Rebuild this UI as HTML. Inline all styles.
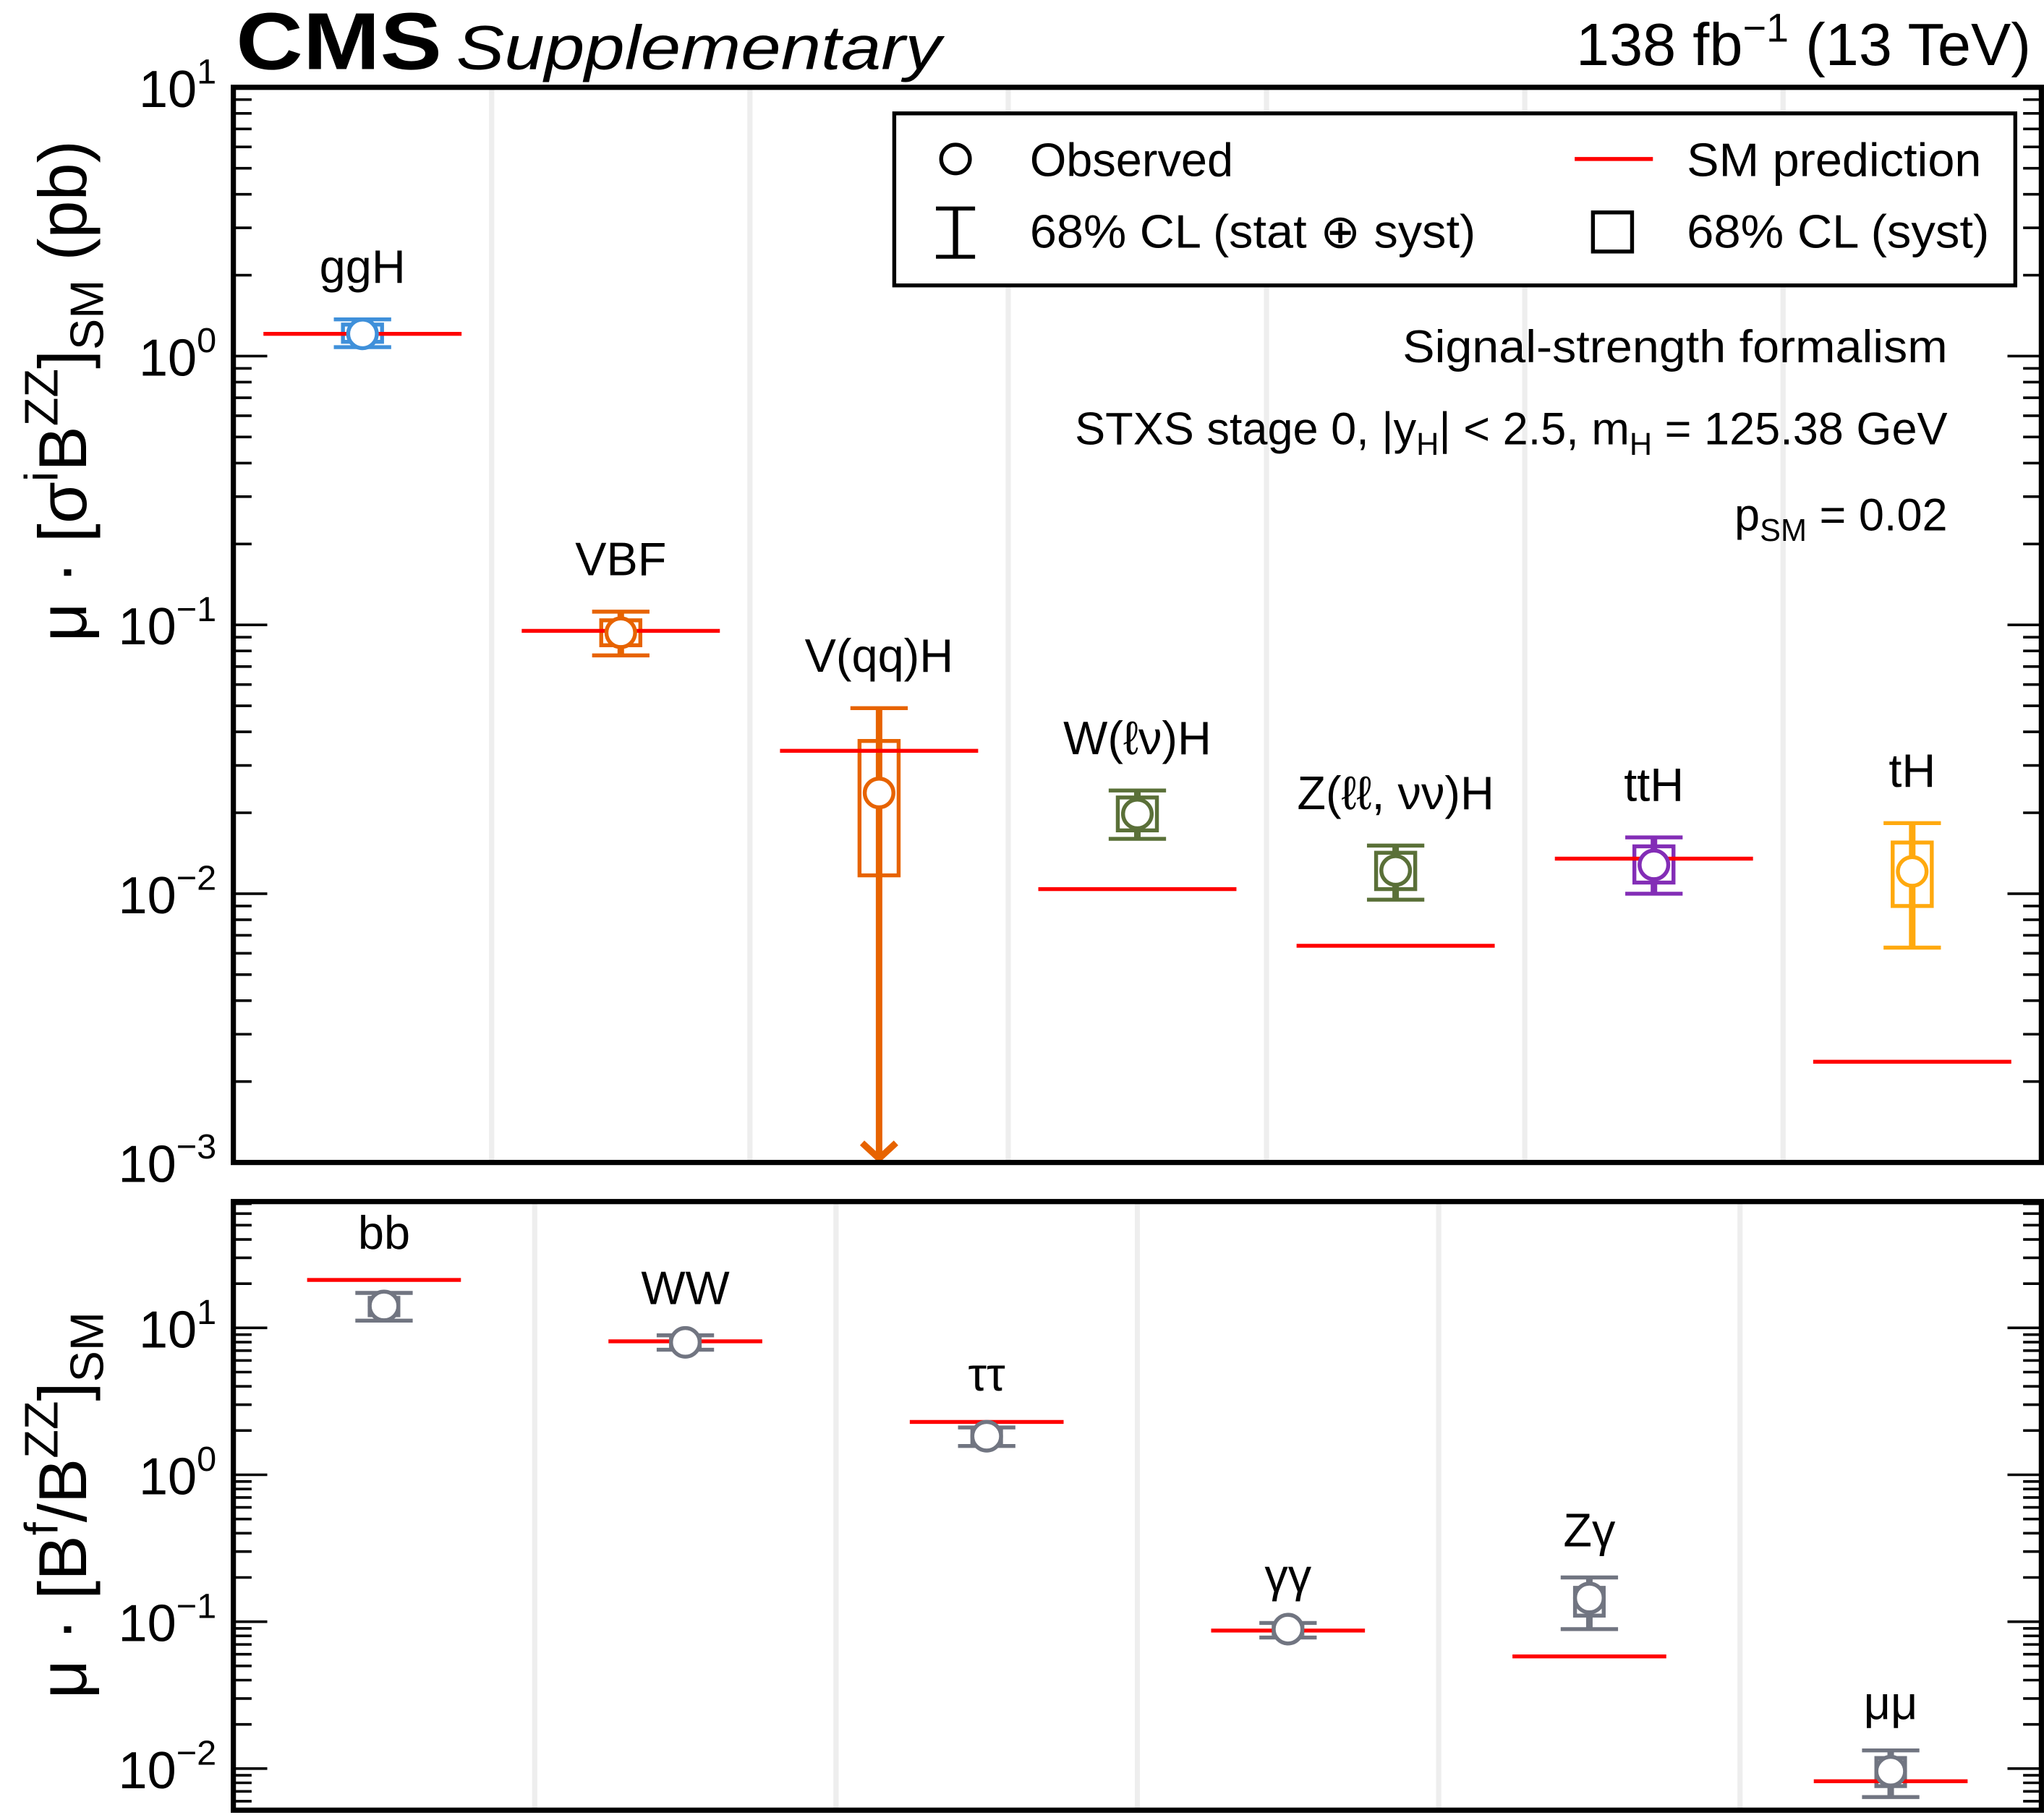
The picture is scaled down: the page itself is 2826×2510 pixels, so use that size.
<!DOCTYPE html>
<html><head><meta charset="utf-8"><style>
html,body{margin:0;padding:0;background:#fff}
svg{display:block}
text{font-family:"Liberation Sans",sans-serif;fill:#000}
</style></head><body>
<svg id="c" width="2826" height="2510" viewBox="0 0 1568 1392.7" xmlns="http://www.w3.org/2000/svg">
<rect x="0" y="0" width="1568" height="1393" fill="#fff"/>
<g id="grid"></g>
<g id="marks"></g>
<g id="axes"></g>
<text x="181" y="53" font-size="62" font-weight="bold" textLength="158" lengthAdjust="spacingAndGlyphs">CMS</text>
<text x="350" y="53" font-size="48" font-style="italic" textLength="372" lengthAdjust="spacingAndGlyphs">Supplementary</text>
<text x="1558" y="50" font-size="46" text-anchor="end">138 fb<tspan dy="-18" font-size="31">−1</tspan><tspan dy="18"> (13 TeV)</tspan></text>
<g>
<rect x="686" y="87" width="860" height="132" fill="#fff" stroke="#000" stroke-width="3"/>
<circle cx="733" cy="122" r="11" fill="#fff" stroke="#000" stroke-width="3"/>
<text x="790" y="135" font-size="36">Observed</text>
<line x1="733" y1="160" x2="733" y2="197" stroke="#000" stroke-width="4"/>
<line x1="718" y1="160" x2="748" y2="160" stroke="#000" stroke-width="3"/>
<line x1="718" y1="197" x2="748" y2="197" stroke="#000" stroke-width="3"/>
<text x="790" y="190" font-size="36" textLength="342" lengthAdjust="spacingAndGlyphs">68% CL (stat ⊕ syst)</text>
<line x1="1208" y1="122" x2="1268" y2="122" stroke="#ff0000" stroke-width="3"/>
<text x="1294" y="135" font-size="36" textLength="226" lengthAdjust="spacingAndGlyphs">SM prediction</text>
<rect x="1222" y="163" width="30" height="30" fill="none" stroke="#000" stroke-width="3"/>
<text x="1294" y="190" font-size="36" textLength="232" lengthAdjust="spacingAndGlyphs">68% CL (syst)</text>
</g>
<text x="1494" y="278" font-size="35" text-anchor="end" textLength="418" lengthAdjust="spacingAndGlyphs">Signal-strength formalism</text>
<text x="1494" y="341" font-size="35" text-anchor="end">STXS stage 0, |y<tspan dy="8" font-size="24">H</tspan><tspan dy="-8">| &lt; 2.5, m</tspan><tspan dy="8" font-size="24">H</tspan><tspan dy="-8"> = 125.38 GeV</tspan></text>
<text x="1494" y="407" font-size="35" text-anchor="end">p<tspan dy="8" font-size="24">SM</tspan><tspan dy="-8"> = 0.02</tspan></text>
<text transform="translate(66,300) rotate(-90)" font-size="52" text-anchor="middle">μ · [σ<tspan dy="-22" font-size="36">i</tspan><tspan dy="22">B</tspan><tspan dy="-22" font-size="36">ZZ</tspan><tspan dy="22">]</tspan><tspan dy="13" font-size="36">SM</tspan><tspan dy="-13"> (pb)</tspan></text>
<text transform="translate(66,1155) rotate(-90)" font-size="52" text-anchor="middle">μ · [B<tspan dy="-22" font-size="36">f</tspan><tspan dy="22">/B</tspan><tspan dy="-22" font-size="36">ZZ</tspan><tspan dy="22">]</tspan><tspan dy="13" font-size="36">SM</tspan></text>
</svg>
<script>
// top panel data
const topCats = ["ggH","VBF","V(qq)H","W(ℓν)H","Z(ℓℓ, νν)H","ttH","tH"];
const topObs = [1.21,0.0935,0.0237,0.0198,0.0122,0.0128,0.0121];
const topSM = [1.21,0.095,0.034,0.0104,0.0064,0.0135,0.00237];
const topHi = [1.37,0.112,0.049,0.0242,0.0151,0.0162,0.0183];
const topLo = [1.08,0.077,0.0009,0.0160,0.0095,0.0100,0.0063];
const topSystHi = [1.31,0.104,0.037,0.0228,0.0142,0.0150,0.0155];
const topSystLo = [1.13,0.084,0.0117,0.0172,0.0104,0.0110,0.0090];
const topColors = ["#3f90da","#e76300","#e76300","#5a7038","#5a7038","#832db6","#ffa90e"];
const topTicks = [-3,-2,-1,0,1];
// bottom panel data
const botCats = ["bb","WW","ττ","γγ","Zγ","μμ"];
const botObs = [14.1,7.97,1.83,0.089,0.145,0.0096];
const botSM = [21.2,8.1,2.29,0.087,0.058,0.0082];
const botHi = [17.3,8.9,2.1,0.098,0.20,0.0133];
const botLo = [11.2,7.1,1.57,0.078,0.089,0.0064];
const botSystHi = [16.0,8.5,2.0,0.094,0.17,0.0118];
const botSystLo = [12.2,7.5,1.66,0.083,0.11,0.0076];
const botTicks = [-2,-1,0,1];

const NS="http://www.w3.org/2000/svg";
const X0=179,X1=1566;
const TOP={y0:67,y1:892,lmin:-3,lmax:1};
const BOT={y0:922,y1:1389,lmin:-2.2831,lmax:1.8598};
function yOf(p,v){const l=Math.log10(v);return p.y1-(l-p.lmin)/(p.lmax-p.lmin)*(p.y1-p.y0);}
function yL(p,l){return p.y1-(l-p.lmin)/(p.lmax-p.lmin)*(p.y1-p.y0);}
function mk(tag,attrs,parent){const e=document.createElementNS(NS,tag);for(const k in attrs)e.setAttribute(k,attrs[k]);parent.appendChild(e);return e;}
const grid=document.getElementById('grid'),marks=document.getElementById('marks'),axes=document.getElementById('axes');

function panel(p,cats,obs,sm,hi,lo,sHi,sLo,colors,ticks,name,labelOff,boxW,smHalf){
  const n=cats.length,w=(X1-X0)/n;
  for(let i=1;i<n;i++){
    const g=mk('line',{x1:X0+i*w,x2:X0+i*w,y1:p.y0,y2:p.y1,stroke:'#eeeeee','stroke-width':4},grid);
    
    
  }
  for(let i=0;i<n;i++){
    const cx=X0+(i+0.5)*w,col=colors[i];
    const g=mk('g',{},marks);
    
    
    const yo=yOf(p,obs[i]),ys=yOf(p,sm[i]),yh=yOf(p,hi[i]);
    let yl=yOf(p,lo[i]);const arrow=yl>=p.y1-1;if(arrow)yl=p.y1-3;
    mk('line',{x1:cx,x2:cx,y1:yh,y2:yl,stroke:col,'stroke-width':5},g);
    mk('line',{x1:cx-22,x2:cx+22,y1:yh,y2:yh,stroke:col,'stroke-width':3},g);
    if(arrow){mk('polyline',{points:`${cx-13},${yl-12} ${cx},${yl} ${cx+13},${yl-12}`,fill:'none',stroke:col,'stroke-width':5},g);}
    else mk('line',{x1:cx-22,x2:cx+22,y1:yl,y2:yl,stroke:col,'stroke-width':3},g);
    const b1=yOf(p,sHi[i]),b2=yOf(p,sLo[i]);
    mk('rect',{x:cx-boxW/2,y:b1,width:boxW,height:b2-b1,fill:'none',stroke:col,'stroke-width':3},g);
    mk('line',{x1:cx-smHalf,x2:cx+smHalf,y1:ys,y2:ys,stroke:'#ff0000','stroke-width':3},g);
    mk('circle',{cx:cx,cy:yo,r:11,fill:'#fff',stroke:col,'stroke-width':3},g);
    const t=mk('text',{x:cx,y:Math.min(yh,ys)-labelOff,'font-size':36,'text-anchor':'middle'},marks);
    t.textContent=cats[i];
    
    
  }
  for(let d=Math.floor(p.lmin);d<=Math.ceil(p.lmax);d++){
    for(let m=1;m<10;m++){
      const l=d+Math.log10(m);if(l<p.lmin-1e-6||l>p.lmax+1e-6)continue;
      const y=yL(p,l),len=m===1?26:14;
      mk('line',{x1:X0,x2:X0+len,y1:y,y2:y,stroke:'#000','stroke-width':2},axes);
      mk('line',{x1:X1-len,x2:X1,y1:y,y2:y,stroke:'#000','stroke-width':2},axes);
    }
  }
  ticks.forEach(d=>{
    const t=mk('text',{x:166,y:yL(p,d)+15,'font-size':40,'text-anchor':'end'},axes);
    t.innerHTML='10<tspan dy="-18" font-size="27">'+(d<0?'−'+(-d):d)+'</tspan>';
    
    
  });
  const f=mk('rect',{x:X0,y:p.y0,width:X1-X0,height:p.y1-p.y0,fill:'none',stroke:'#000','stroke-width':4},axes);
  
  
}
panel(TOP,topCats,topObs,topSM,topHi,topLo,topSystHi,topSystLo,topColors,topTicks,'top',28,30,76);
panel(BOT,botCats,botObs,botSM,botHi,botLo,botSystHi,botSystLo,botCats.map(()=>'#717581'),botTicks,'bottom',24,22,59);
</script>
</body></html>
